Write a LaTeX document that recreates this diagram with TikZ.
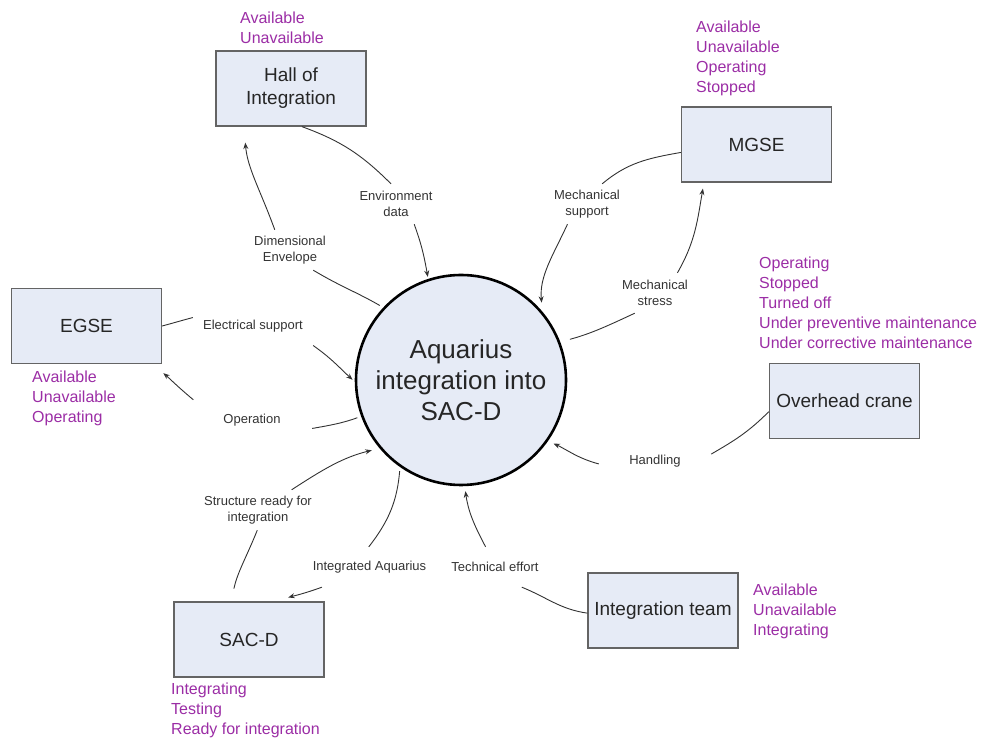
\documentclass[tikz,border=0pt]{standalone}
\usepackage{fontspec}
\setmainfont{Liberation Sans}
\usetikzlibrary{arrows.meta}

\definecolor{boxfill}{RGB}{230,235,246}
\definecolor{boxline}{RGB}{100,100,100}
\definecolor{statecol}{RGB}{155,45,165}
\definecolor{flowcol}{RGB}{50,50,50}
\newcommand{\boxfont}{\fontsize{19bp}{23bp}\selectfont}
\newcommand{\hubfont}{\fontsize{26bp}{31bp}\selectfont}
\newcommand{\flowfont}{\fontsize{13bp}{15.5bp}\selectfont}
\newcommand{\statefont}{\fontsize{16bp}{20bp}\selectfont}

\begin{document}
\begin{tikzpicture}[x=1bp, y=1bp, >={Stealth[length=6.5bp, width=5bp]},
    box node/.style={rectangle, draw=boxline, line width=1.3bp, fill=boxfill, minimum width=150bp, minimum height=75bp, inner sep=2bp, align=center, text=black!85, font=\boxfont},
    hub node/.style={circle, draw=black, line width=2.6bp, fill=boxfill, minimum size=210bp, inner sep=0pt, align=center, text=black!85, font=\hubfont},
    flow label/.style={minimum width=112bp, minimum height=40bp, inner sep=0pt, align=center, text=black!80, font=\flowfont},
    state list/.style={anchor=north west, inner sep=0pt, align=left, text=statecol, font=\statefont},
    flow/.style={draw=flowcol, line width=0.9bp},
    flow tip/.style={flow, ->}]
        \useasboundingbox (0,0) rectangle (981,738);

        % Nodes
        \node[hub node] (core) at (461,358) {Aquarius\\integration into\\SAC-D};
        \node[box node] (hall) at (291,649.5) {Hall of\\Integration};
        \node[box node] (mgse) at (756.5,593.5) {MGSE};
        \node[box node] (egse) at (86.5,412) {EGSE};
        \node[box node] (crane) at (844.5,337) {Overhead crane};
        \node[box node] (team) at (663,127.5) {Integration team};
        \node[box node] (sacd) at (249,98.5) {SAC-D};

        % States of each element
        \node[state list] (hallst) at (240,726) {Available\\Unavailable};
        \node[state list] (mgsest) at (696,717) {Available\\Unavailable\\Operating\\Stopped};
        \node[state list] (cranest) at (759,481) {Operating\\Stopped\\Turned off\\Under preventive maintenance\\Under corrective maintenance};
        \node[state list] (egsest) at (32,367) {Available\\Unavailable\\Operating};
        \node[state list] (teamst) at (753,154) {Available\\Unavailable\\Integrating};
        \node[state list] (sacdst) at (171,55) {Integrating\\Testing\\Ready for integration};

        % Flow labels
        \node[flow label] (envl) at (396,534) {Environment\\data};
        \node[flow label] (diml) at (290,488) {Dimensional\\Envelope};
        \node[flow label] (msupl) at (587,534) {Mechanical\\support};
        \node[flow label] (mstrl) at (655,445) {Mechanical\\stress};
        \node[flow label, minimum width=120bp] (elsl) at (253,412) {Electrical support};
        \node[flow label, minimum width=120bp] (opl) at (252,318) {Operation};
        \node[flow label] (handl) at (655,277) {Handling};
        \node[flow label] (techl) at (495,171) {Technical effort};
        \node[flow label] (intl) at (369.5,171) {Integrated Aquarius};
        \node[flow label] (strl) at (258,228) {Structure ready for\\integration};

        % Arrows/Edges, each one broken by its label
        \path
        (hall.-74) edge[flow, out=-20, in=135] (envl.104)
        (envl.-48) edge[flow tip, out=-70, in=100, shorten >=2bp] (core.108)
        (core.137) edge[flow, out=150, in=-31, shorten <=4bp] (diml.-41)
        (diml.127) edge[flow tip, out=110, in=-85, shorten >=16bp] (hall.219)
        (mgse.186) edge[flow, out=190, in=40] (msupl.53)
        (msupl.226) edge[flow tip, out=245, in=95, shorten >=9bp] (core.40)
        (core.21) edge[flow, out=15, in=205, shorten <=10bp] (mstrl.225)
        (mstrl.42) edge[flow tip, out=60, in=260, shorten >=6bp] (mgse.216)
        (egse.east) edge[flow, out=15, in=195] (elsl.172)
        (elsl.-18) edge[flow tip, out=-35, in=137, shorten >=3bp] (core.181)
        (core.200) edge[flow, out=200, in=10, shorten <=4bp] (opl.-8)
        (opl.161) edge[flow tip, out=140, in=-40, shorten >=14bp] (egse.-30)
        (crane.188) edge[flow, out=225, in=30] (handl.7)
        (handl.183) edge[flow tip, out=165, in=-25, shorten >=6bp] (core.-35)
        (team.182) edge[flow, out=172, in=-22] (techl.-37)
        (techl.115) edge[flow tip, out=118, in=-82, shorten >=5bp] (core.-88)
        (core.235) edge[flow, out=265, in=52, shorten <=4bp] (intl.92)
        (intl.203) edge[flow tip, out=200, in=16, shorten >=14bp] (sacd.56)
        (sacd.115) edge[flow, out=78, in=-112, shorten <=13bp] (strl.-92)
        (strl.31) edge[flow tip, out=33, in=194, shorten >=8bp] (core.220);
\end{tikzpicture}
\end{document}
